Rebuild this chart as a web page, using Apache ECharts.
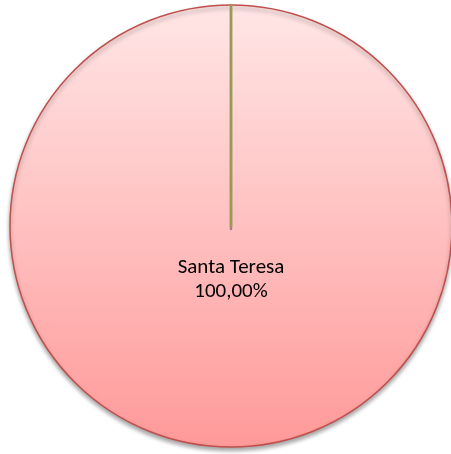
<!DOCTYPE html>
<html>
<head>
<meta charset="utf-8">
<script src="https://cdn.jsdelivr.net/npm/echarts@6/dist/echarts.min.js"></script>
<style>
  html, body { margin: 0; padding: 0; background: #fff; }
  #main { width: 451px; height: 454px; }
</style>
</head>
<body>
<div id="main"></div>
<script>
// slices: one slice holds everything, the other is zero
const categories = ['Santa Teresa', 'Otros'];
const values = [100, 0];
const sliceColors = ['#FFBEBE', '#9A9B52'];

const total = values.reduce((a, b) => a + b, 0);

const chart = echarts.init(document.getElementById('main'), null, { renderer: 'canvas' });

const pieData = categories.map((name, i) => {
  const item = { name: name, value: values[i] };
  if (values[i] === 0) {
    // zero slice only shows as its border line
    item.itemStyle = { color: sliceColors[i], borderColor: sliceColors[i], borderWidth: 2.5, shadowBlur: 0 };
    item.label = { show: false };
  }
  return item;
});

chart.setOption({
  animation: false,
  series: [{
    type: 'pie',
    center: [231, 226],
    radius: 221,
    startAngle: 90,
    clockwise: true,
    stillShowZeroSum: true,
    data: pieData,
    itemStyle: {
      color: new echarts.graphic.LinearGradient(0, 0, 0, 1, [
        { offset: 0, color: '#FFE6E6' },
        { offset: 0.5, color: '#FFC0C0' },
        { offset: 1, color: '#FF9999' }
      ]),
      borderColor: '#C0504D',
      borderWidth: 1.5,
      shadowColor: 'rgba(0,0,0,0.35)',
      shadowBlur: 4,
      shadowOffsetY: 3
    },
    label: {
      show: true,
      position: 'center',
      align: 'center',
      formatter: p => '{gap|}\n{t|' + p.name + '}\n{t|' +
        (p.value / total * 100).toFixed(2).replace('.', ',') + '%}',
      rich: {
        gap: { height: 108, lineHeight: 108 },
        t: {
          fontFamily: 'Carlito, Lato, sans-serif',
          fontSize: 21,
          lineHeight: 24,
          color: '#000',
          align: 'center'
        }
      }
    },
    labelLine: { show: false },
    emphasis: { disabled: true }
  }]
});
</script>
</body>
</html>
